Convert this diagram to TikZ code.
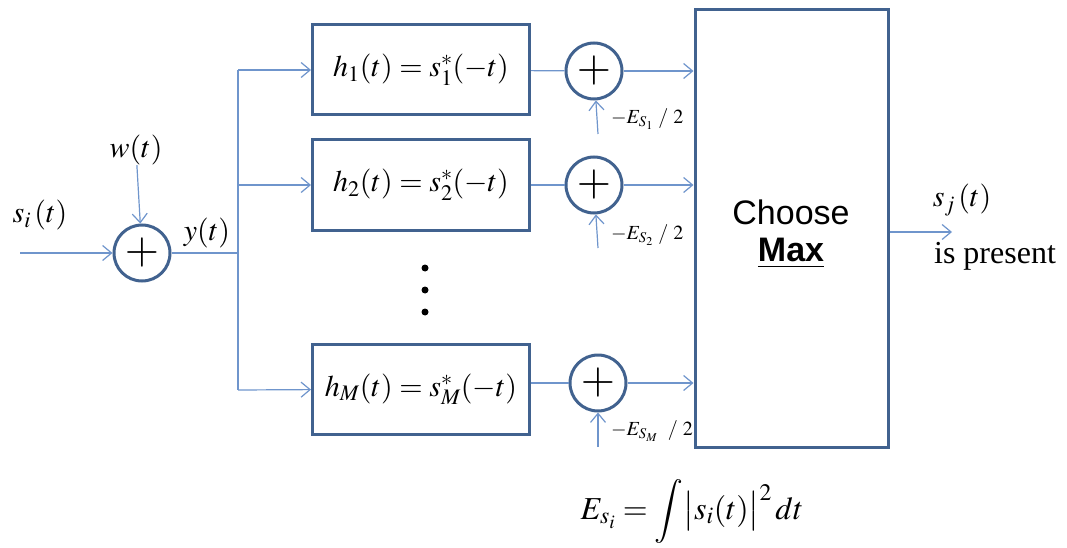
\documentclass[tikz,border=0pt]{standalone}
\usepackage{mathptmx}
\usepackage{fontspec}
\setmainfont{Liberation Serif}
\setsansfont{Liberation Sans}
\usetikzlibrary{arrows.meta, positioning, calc}
\definecolor{SigBlue}{HTML}{6F95CC}
\definecolor{BoxBlue}{HTML}{41628F}
\newcommand{\bigtxt}{\fontsize{30}{34}\selectfont}
\newcommand{\smalltxt}{\fontsize{20}{24}\selectfont}
\tikzset{
    % Block styles
    filterbox/.style={
        rectangle,
        draw=BoxBlue,
        line width=3pt,
        minimum width=217pt,
        minimum height=90pt,
        inner sep=0pt,
        font=\bigtxt
    },
    sumnode/.style={
        circle,
        draw=BoxBlue,
        line width=3pt,
        minimum size=56pt,
        inner sep=0pt,
        font=\fontsize{44}{44}\selectfont
    },
    maxbox/.style={
        rectangle,
        draw=BoxBlue,
        line width=3pt,
        minimum width=193pt,
        minimum height=437pt,
        inner sep=0pt
    },
    % Signal styles
    sigarrow/.style={
        -{Straight Barb[length=9pt,width=15pt,line width=1.2pt]},
        SigBlue,
        line width=1.2pt
    },
    sigline/.style={
        SigBlue,
        line width=1.2pt
    },
    label/.style={
        inner sep=0pt,
        font=\bigtxt
    },
    biaslabel/.style={
        inner sep=0pt,
        anchor=west,
        font=\smalltxt
    }
}
\begin{document}
\begin{tikzpicture}[x=1pt, y=-1pt]
    \useasboundingbox (0,0) rectangle (1067,548);

    % Input and noise
    \node[sumnode] (add) at (142,253) {$+$};
    \coordinate (in) at (20,253);
    \node[label] (si) at (40,215) {$s_{i}\,(t)$};
    \node[label] (w) at (136,150) {$w(t)$};
    \draw[sigarrow] (in) -- (add);
    \draw[sigarrow] (w) -- (add);
    \node[label] (y) at (207,233) {$y(t)$};

    % Bus to the filters
    \coordinate (bus) at (238,253);
    \coordinate (bustop) at (238,70);
    \coordinate (busbot) at (238,390);
    \draw[sigline] (add) -- (bus);
    \draw[sigline] (bustop) -- (busbot);

    % Matched filters
    \node[filterbox] (f1) at (421,70) {$h_{1}(t) = s_{1}^{*}(-t)$};
    \node[filterbox] (f2) at (421,185) {$h_{2}(t) = s_{2}^{*}(-t)$};
    \node[filterbox] (fM) at (421,389) {$h_{M}(t) = s_{M}^{*}(-t)$};
    \draw[sigarrow] (bustop) -- (f1);
    \draw[sigarrow] (238,185) -- (f2);
    \draw[sigarrow] (busbot) -- (fM);
    \foreach \yy in {268,290,312} {
        \fill (425,\yy) circle (3.5);
    }

    % Bias adders
    \node[sumnode] (a1) at (594,71) {$+$};
    \node[sumnode] (a2) at (594,185) {$+$};
    \node[sumnode] (aM) at (598,383) {$+$};
    \draw[sigline] (f1) -- (a1);
    \draw[sigline] (f2) -- (a2);
    \draw[sigline] (fM.east |- aM) -- (aM);

    \coordinate (b1) at (598,134);
    \coordinate (b2) at (598,248);
    \coordinate (bM) at (598,447);
    \draw[sigarrow] (b1) -- (a1);
    \draw[sigarrow] (b2) -- (a2);
    \draw[sigarrow] (bM) -- (aM);
    \node[biaslabel] (e1) at (611,119) {$-E_{S_1}\ /\ 2$};
    \node[biaslabel] (e2) at (611,235) {$-E_{S_2}\ /\ 2$};
    \node[biaslabel] (eM) at (611,431) {$-E_{S_M}\ \ /\ 2$};

    % Decision
    \node[maxbox] (max) at (791.5,228.5) {};
    \node[font=\fontsize{34}{40}\selectfont\sffamily] (choose) at (791,212) {Choose};
    \node[font=\fontsize{34}{40}\selectfont\sffamily\bfseries] (maxtxt) at (791,253) {\underline{Max}};
    \draw[sigarrow] (a1) -- (a1 -| max.west);
    \draw[sigarrow] (a2) -- (a2 -| max.west);
    \draw[sigarrow] (aM) -- (aM -| max.west);

    % Output
    \coordinate (out) at (952,232);
    \draw[sigarrow] (max.east |- out) -- (out);
    \node[label] (sj) at (962,200) {$s_{j}\,(t)$};
    \node[label, font=\fontsize{32}{36}\selectfont] (pres) at (995,256) {is present};

    % Energy
    \node[label, font=\fontsize{32}{36}\selectfont] (energy) at (692,511) {$\displaystyle E_{s_i} = \int \bigl|s_i(t)\bigr|^2 \,dt$};
\end{tikzpicture}
\end{document}
